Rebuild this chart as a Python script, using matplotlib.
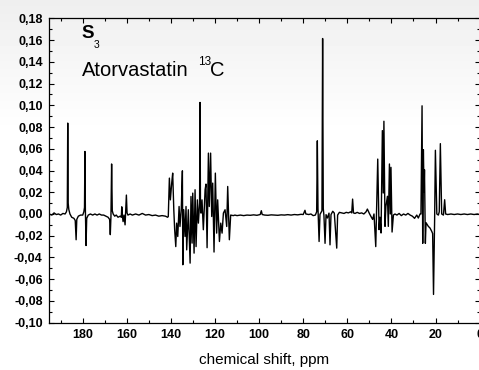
import numpy as np
import matplotlib
matplotlib.use("Agg")
import matplotlib.pyplot as plt
from matplotlib.ticker import MultipleLocator, FuncFormatter

# ---- data: traced spectrum vertices (chemical shift ppm, intensity), by region ----
carbonyl_region = [
    (195.3, 0.000), (194, -0.001), (193, 0.001), (192, -0.0005), (191, 0.000), (190, -0.001),
    (189, 0.0005), (188, 0.000), (187.4, 0.002), (187.0, 0.006), (186.8, 0.0836), (186.6, 0.010),
    (186.3, 0.004), (185.8, 0.000), (185.0, -0.003), (184.0, -0.004), (183.4, -0.006),
    (183.0, -0.0237), (182.7, -0.005), (182.0, -0.002), (181.0, -0.001), (180.0, -0.001),
    (179.5, 0.002), (179.2, 0.006), (179.0, 0.0575), (178.8, 0.004), (178.5, -0.029),
    (178.2, -0.004), (177.5, -0.001), (176.5, 0.000), (175.5, -0.001), (174.5, 0.000),
    (173.5, -0.001), (172.5, 0.000), (171.5, -0.001), (170.5, -0.001), (169.5, -0.002),
    (168.5, -0.003), (167.8, -0.005), (167.5, -0.019), (167.2, -0.002), (166.9, 0.046),
    (166.6, 0.003), (166.2, 0.000), (165.5, -0.002), (164.8, -0.001), (164.0, -0.003),
    (163.0, -0.002), (162.5, -0.003), (162.3, 0.0066), (162.0, -0.002), (161.7, -0.007),
    (161.3, -0.001), (160.8, -0.010), (160.2, 0.0174), (159.9, 0.001), (159.5, -0.001),
    (158.5, 0.000), (157.5, -0.001), (156.0, 0.000), (154.5, -0.001), (153.0, 0.0005),
    (151.5, -0.001), (150.0, -0.0005), (148.5, -0.0015), (147.0, -0.001), (145.5, -0.002),
    (144.0, -0.0015), (142.5, -0.002), (141.5, -0.003),
]
aromatic_region = [
    (141.2, -0.0023), (140.7, 0.033), (140.25, 0.013), (139.65, 0.0284), (139.2, 0.0376),
    (138.7, 0.0039), (138.3, -0.0145), (137.8, -0.030), (137.4, -0.0084), (136.9, -0.0207),
    (136.3, 0.0069), (135.9, -0.0115), (135.3, 0.005), (134.8, 0.0397), (134.6, -0.0467),
    (134.2, 0.0039), (133.6, -0.0207), (133.15, 0.0069), (132.85, -0.033), (132.1, 0.0039),
    (131.3, -0.0452), (130.9, 0.0161), (130.4, -0.0268), (130.1, 0.0192), (129.5, -0.036),
    (129.05, 0.0223), (128.6, -0.030), (128.0, 0.013), (127.55, -0.0084), (127.0, 0.010),
    (126.8, 0.1026), (126.6, 0.008), (126.35, 0.0008), (125.9, 0.013), (125.3, -0.0145),
    (124.5, 0.0223), (124.1, 0.0275), (123.6, -0.031), (123.0, 0.056), (122.6, 0.0069),
    (122.0, 0.056), (121.5, -0.0023), (121.05, 0.0284), (120.45, -0.035), (119.85, 0.0376),
    (119.25, -0.0176), (118.8, 0.013), (118.0, -0.0253), (117.4, -0.0084), (116.8, -0.0176),
    (116.2, 0.0008), (115.45, 0.0039), (114.7, -0.0115), (114.25, 0.0253), (113.5, -0.0237),
    (112.9, -0.001), (111.7, -0.0015),
]
mid_region = [
    (111.0, -0.001), (110.0, -0.0015), (108.5, -0.001), (107.0, -0.0015), (105.5, -0.001),
    (104.0, -0.0012), (102.5, -0.0008), (101.0, -0.0012), (99.5, -0.0005), (99.0, 0.003),
    (98.6, -0.0005), (97.5, -0.001), (96.0, -0.0012), (94.5, -0.0008), (93.0, -0.001),
    (91.5, -0.0012), (90.0, -0.0008), (88.5, -0.001), (87.0, -0.0006), (85.5, -0.001),
    (84.0, -0.0005), (82.5, -0.0008), (81.0, -0.0003), (80.0, -0.0005), (79.2, 0.0034),
    (78.8, 0.000), (77.5, -0.0005), (76.5, 0.000), (75.5, -0.0015), (74.5, -0.001),
    (73.9, 0.002), (73.6, 0.0673), (73.3, 0.005), (72.8, -0.0253), (72.4, -0.0004),
    (71.5, 0.003), (71.2, 0.1614), (70.9, 0.005), (70.6, -0.0015), (70.1, -0.027),
    (69.65, -0.0006), (69.05, -0.0037), (68.3, 0.0008), (67.85, -0.0284), (67.4, -0.0006),
    (66.6, 0.0025), (65.9, 0.0008), (64.8, -0.0314), (64.4, -0.001), (63.6, 0.0015),
    (62.5, 0.001), (61.5, 0.0005), (60.5, 0.0015), (59.5, 0.001), (58.5, 0.002), (58.0, 0.001),
    (57.6, 0.0137), (57.2, 0.001), (56.5, 0.0005), (55.5, 0.0015), (54.5, 0.0005),
    (53.5, 0.001), (52.5, 0.000), (51.5, 0.002), (50.9, 0.0045), (50.0, 0.0005),
]
aliphatic_region = [
    (48.9, -0.0037), (48.5, -0.005), (47.9, 0.000), (47.1, -0.030), (46.2, 0.0505),
    (45.6, -0.0144), (45.2, -0.003), (44.7, -0.0175), (44.1, 0.0767), (43.7, 0.0193),
    (43.4, 0.0853), (42.9, -0.0114), (42.5, 0.007), (41.8, 0.0163), (41.4, -0.0114),
    (40.9, 0.046), (40.5, 0.000), (40.2, 0.0429), (39.7, -0.0166), (39.1, -0.001),
    (38.4, 0.000), (37.5, -0.001), (36.5, 0.0005), (35.5, -0.0015), (34.5, 0.000),
    (33.5, -0.001), (32.5, 0.0005), (31.5, -0.001), (30.5, -0.002), (29.5, -0.004),
    (28.5, -0.001), (27.8, -0.0037), (27.0, 0.000), (26.6, 0.000), (26.1, 0.0995),
    (25.8, -0.027), (25.5, 0.0592), (25.2, 0.020), (25.0, 0.0407), (24.6, -0.027),
    (24.3, -0.008), (24.0, -0.009), (23.25, -0.0114), (22.5, -0.0129), (21.7, -0.016),
    (21.3, -0.018), (20.9, -0.074), (20.4, -0.005), (20.05, 0.0586), (19.4, 0.000),
    (18.7, -0.001), (18.3, 0.002), (17.8, 0.0647), (17.2, 0.000), (16.4, -0.001),
    (15.85, 0.0131), (15.4, 0.000), (14.5, -0.0005), (13.0, 0.000), (11.5, -0.0005),
    (10.0, 0.000), (8.5, -0.0005), (7.0, 0.000), (5.5, -0.0005), (4.0, 0.000), (2.5, -0.0005),
    (1.0, 0.000), (0.0, -0.0005),
]

x_ticks = [0, 20, 40, 60, 80, 100, 120, 140, 160, 180]
y_ticks = [-0.10, -0.08, -0.06, -0.04, -0.02, 0.00, 0.02, 0.04, 0.06, 0.08, 0.10, 0.12, 0.14, 0.16, 0.18]
x_label = "chemical shift, ppm"
sample_label = "S"
sample_sub = "3"
compound_label = "Atorvastatin"
isotope_mass = "13"
isotope_symbol = "C"

trace = carbonyl_region + aromatic_region + mid_region + aliphatic_region
ppm = [p for p, _ in trace]
intensity = [v for _, v in trace]

plt.rcParams['font.family'] = ['Liberation Sans', 'DejaVu Sans']

fig = plt.figure(figsize=(4.79, 3.70), dpi=100)

# subtle gray gradient at the top of the picture
bg = fig.add_axes([0, 0, 1, 1], zorder=-10)
grad = np.linspace(0, 1, 370)
shade = np.clip(1 - grad / 0.36, 0, 1)
img = 1 - 0.065 * shade
bg.imshow(np.repeat(img[:, None], 2, axis=1), cmap='gray', vmin=0, vmax=1,
          aspect='auto', extent=[0, 1, 0, 1], origin='upper')
bg.set_axis_off()

ax = fig.add_axes([49 / 479, (370 - 322.7) / 370, (479.6 - 49) / 479, (322.7 - 18.3) / 370])
ax.set_facecolor('none')
ax.plot(ppm, intensity, color='black', lw=1.0)

ax.set_xlim(195.3, 0)
ax.set_ylim(-0.10, 0.18)
ax.set_xticks(x_ticks)
ax.set_yticks(y_ticks)
ax.xaxis.set_minor_locator(MultipleLocator(10))
ax.yaxis.set_minor_locator(MultipleLocator(0.01))
ax.yaxis.set_major_formatter(FuncFormatter(lambda v, p: f"{v:.2f}".replace('.', ',').replace('-0,00', '0,00')))
ax.xaxis.set_major_formatter(FuncFormatter(lambda v, p: f"{v:.0f}"))

ax.tick_params(which='both', direction='in', top=True, right=True, width=0.8)
ax.tick_params(which='major', length=3.5, labelsize=9, pad=4.5)
ax.tick_params(which='minor', length=2)
for lab in ax.get_xticklabels() + ax.get_yticklabels():
    lab.set_fontweight('bold')
for s in ax.spines.values():
    s.set_linewidth(0.9)

ax.set_xlabel(x_label, fontsize=11, labelpad=9)

# sample label S with subscript 3
ax.text(0.0759, 0.934, sample_label, transform=ax.transAxes, fontsize=13.5,
        fontweight='bold', ha='left', va='baseline')
ax.text(0.1045, 0.9034, sample_sub, transform=ax.transAxes, fontsize=7.5,
        ha='left', va='baseline')
# compound label with superscript isotope mass
ax.text(0.0759, 0.8104, compound_label, transform=ax.transAxes, fontsize=14.5,
        ha='left', va='baseline')
ax.text(0.346, 0.8466, isotope_mass, transform=ax.transAxes, fontsize=8.5,
        ha='left', va='baseline')
ax.text(0.3739, 0.8104, isotope_symbol, transform=ax.transAxes, fontsize=14.5,
        ha='left', va='baseline')

fig.savefig("out.png", dpi=100)
